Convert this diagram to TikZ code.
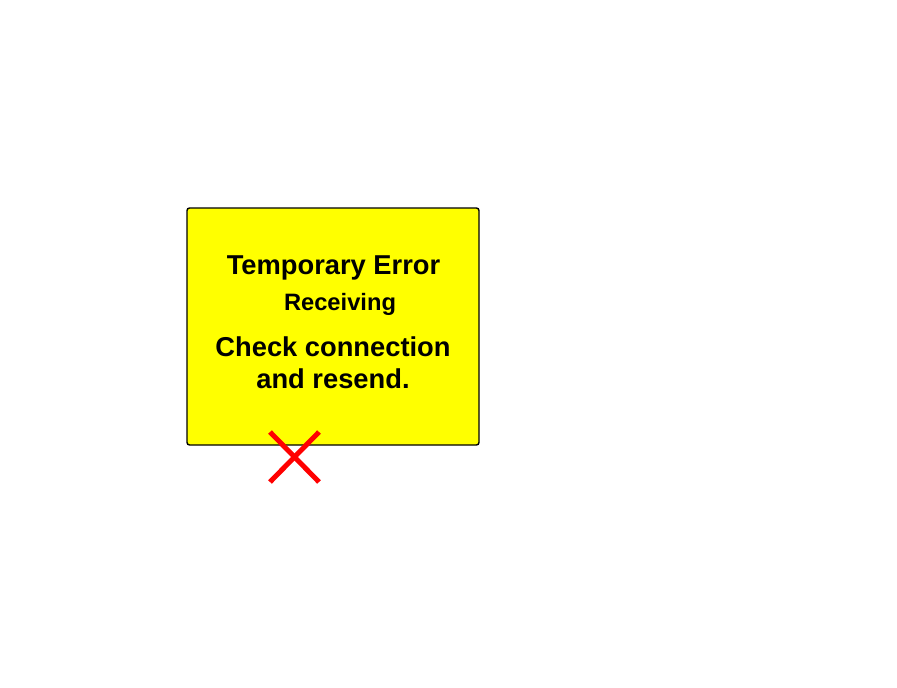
\documentclass[tikz,border=0pt]{standalone}
\usepackage{fontspec}
\setmainfont{Liberation Sans}
\usetikzlibrary{positioning}
\definecolor{boxyellow}{RGB}{255,255,0}
\definecolor{crossred}{RGB}{255,0,0}
\tikzset{
  errbox/.style={draw=black,line width=1.4pt,fill=boxyellow,rounded corners=2.5pt},
  bigline/.style={font=\bfseries\fontsize{27.3}{32}\selectfont,anchor=base,inner sep=0pt},
  smallline/.style={font=\bfseries\fontsize{23.7}{28}\selectfont,anchor=base,inner sep=0pt},
  cross/.style={crossred,line width=5pt}
}
\begin{document}
\begin{tikzpicture}[x=1pt,y=-1pt]
\useasboundingbox (0,0) rectangle (897,688);

% message box
\draw[errbox] (187,208) rectangle (479,445);
\node[bigline] (title) at (333.5,274) {Temporary Error};
\node[smallline] (state) at (340,310) {Receiving};
\node[bigline] (hintA) at (333,356) {Check connection};
\node[bigline] (hintB) at (333,388) {and resend.};

% cross
\coordinate (xa) at (270,432);
\coordinate (xb) at (319,482);
\coordinate (xc) at (319,432);
\coordinate (xd) at (270,482);
\draw[cross] (xa) -- (xb);
\draw[cross] (xc) -- (xd);
\end{tikzpicture}
\end{document}
